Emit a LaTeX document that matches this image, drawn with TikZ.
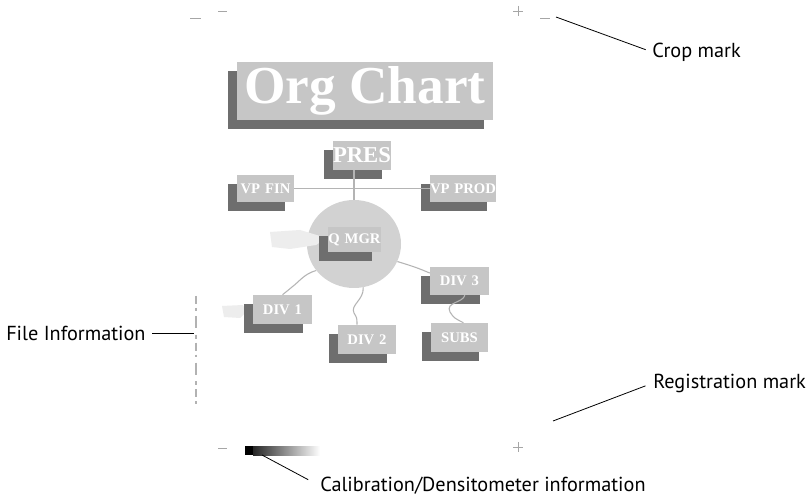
\documentclass[tikz,border=0pt]{standalone}
\usepackage{fontspec}
\setmainfont{PT Sans}
\newfontfamily\boxfont{Liberation Serif}
\usetikzlibrary{shapes.geometric,shadows}
\definecolor{boxgray}{HTML}{C6C6C6}
\definecolor{shadegray}{HTML}{6E6E6E}
\definecolor{ballgray}{HTML}{D2D2D2}
\definecolor{wiregray}{HTML}{B4B4B4}
\begin{document}
\begin{tikzpicture}[x=0.75pt,y=-0.75pt,
  orgbox/.style 2 args={rectangle, fill=boxgray, inner sep=0pt,
    minimum width={#1*0.75pt}, minimum height={#2*0.75pt},
    text=white, font=\boxfont\bfseries\fontsize{11}{11}\selectfont,
    general shadow={fill=shadegray, shadow xshift=-6.5pt, shadow yshift=-6.5pt}},
  wire/.style={draw=wiregray, line width=0.8pt},
  leader/.style={draw=black, line width=0.6pt},
  lbl/.style={font=\fontsize{15.2}{15.2}\selectfont, inner sep=0pt, text=black},
  cropline/.style={draw=gray!70, line width=0.5pt}]
\useasboundingbox (0,0) rectangle (808,499);
\fill[white] (0,0) rectangle (808,499);

% crop and registration marks around the page
\draw[cropline] (190,18) -- (201,18);
\draw[cropline] (218,11) -- (227,11);
\draw[cropline] (513,11) -- (523,11) (518,6) -- (518,16);
\draw[cropline] (540,18) -- (550,18);
\draw[cropline] (218,448) -- (227,448);
\draw[cropline] (513,447) -- (523,447) (518,442) -- (518,452);

% file information column (tiny vertical print)
\draw[gray!60, line width=1pt, dash pattern=on 6pt off 3pt on 2pt off 4pt on 9pt off 5pt on 3pt off 3pt]
  (196,296) -- (196,408);

% calibration strip
\fill[black] (245,446) rectangle (253,455);
\shade[left color=black!85, right color=white] (253,446) rectangle (320,455);

% title
\node[rectangle, fill=boxgray, inner sep=0pt,
  minimum width={256*0.75pt}, minimum height={58*0.75pt},
  general shadow={fill=shadegray, shadow xshift=-7pt, shadow yshift=-7pt},
  text=white, font=\boxfont\bfseries\fontsize{40}{40}\selectfont]
  (title) at (365,91) {Org Chart};

% management ball
\node[ellipse, fill=ballgray, minimum width={94*0.75pt}, minimum height={88*0.75pt}, inner sep=0pt]
  (circ) at (354,244) {};

% faint smudges
\fill[gray!14] (270,232) -- (300,230) -- (320,236) -- (322,241) -- (316,245) -- (290,249) -- (272,247) -- cycle;
\fill[gray!14] (222,306) -- (243,305) -- (246,312) -- (240,318) -- (224,317) -- cycle;

% boxes
\node[orgbox={50}{29}, font=\boxfont\bfseries\fontsize{17}{17}\selectfont] (pres) at (362,155.5) {PRES};
\node[orgbox={57}{27}] (vpfin) at (265.5,188.5) {VP\,\,FIN};
\node[orgbox={60}{27}] (vpprod) at (463,188.5) {VP\,\,PROD};
\node[orgbox={53}{25}] (qmgr) at (354.5,239.5) {Q\,\,MGR};
\node[orgbox={59}{29}] (div1) at (282.5,309.5) {DIV\,\,1};
\node[orgbox={58}{29}] (div2) at (367,339.5) {DIV\,\,2};
\node[orgbox={59}{28}] (div3) at (459.5,281) {DIV\,\,3};
\node[orgbox={57}{29}] (subs) at (459.5,337.5) {SUBS};

% straight connectors
\draw[wire] (vpfin.east) -- (vpprod.west);
\draw[wire] (pres.south -| circ.north) -- (circ.north);

% wavy connectors
\draw[wire] (circ.215) .. controls (304,274) and (300,281) .. (292,287)
  .. controls (286,292) .. (div1.north);
\draw[wire] (circ.282) .. controls (364,300) and (350,305) .. (354,313)
  .. controls (357,318) .. ([xshift=-7.5pt]div2.north);
\draw[wire] (circ.-22) .. controls (412,266) and (418,268) .. (div3.165);
\draw[wire] ([xshift=4pt]div3.south) .. controls (463,303) and (445,302) .. (450,312)
  .. controls (454,318) .. ([xshift=3pt]subs.north);

% callout labels
\node[lbl, anchor=west] (cropl) at (652,52) {Crop mark};
\coordinate (cropm) at (556,17);
\draw[leader, shorten >=5pt] (cropm) -- (cropl.west);

\node[lbl, anchor=west] (regl) at (653,383) {Registration mark};
\coordinate (regm) at (553,421);
\draw[leader, shorten >=6pt] (regm) -- (regl.west);

\node[lbl, anchor=west] (filel) at (6,333) {File Information};
\coordinate (filem) at (194,333);
\draw[leader, shorten <=5pt] (filel.east) -- (filem);

\node[lbl, anchor=west] (calibl) at (320,486) {Calibration/Densitometer information};
\coordinate (calibm) at (262,455);
\draw[leader, shorten >=10pt] (calibm) -- (calibl.west);
\end{tikzpicture}
\end{document}
